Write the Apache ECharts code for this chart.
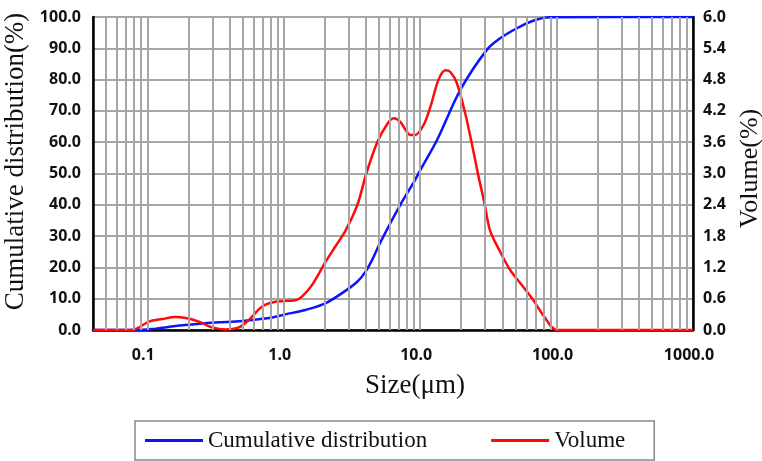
<!DOCTYPE html>
<html>
<head>
<meta charset="utf-8">
<script src="https://cdn.jsdelivr.net/npm/echarts@6/dist/echarts.min.js"></script>
<style>
html,body{margin:0;padding:0;background:#fff;}
#chart{width:762px;height:461px;}
</style>
</head>
<body>
<div id="chart"></div>
<script>
// Particle size (µm) and cumulative distribution (%)
const cumSize = [0.04, 0.082, 0.109, 0.161, 0.253, 0.334, 0.443, 0.587, 0.823, 1.03, 1.44, 2.02, 2.83, 3.47, 3.96, 4.46, 5.11, 7.15, 9.2, 10.0, 13.3, 19.7, 30.8, 38.6, 51.2, 67.3, 89.6, 1000];
const cumValue = [0, 0, 0.3, 1.3, 2.1, 2.5, 2.7, 3.2, 4.0, 5.0, 6.4, 8.5, 12.5, 15.5, 18.5, 22.5, 28.0, 40.0, 48.0, 51.0, 60.7, 76.7, 89.5, 93.2, 96.4, 98.8, 99.9, 100];

// Particle size (µm) and volume (%)
const volSize = [0.04, 0.0777, 0.0868, 0.103, 0.129, 0.161, 0.191, 0.239, 0.299, 0.374, 0.469, 0.554, 0.695, 0.869, 1.09, 1.22, 1.36, 1.61, 2.02, 2.39, 2.83, 3.47, 4.03, 4.85, 5.74, 6.39, 7.15, 8.47, 9.2, 10.6, 11.9, 13.6, 15.3, 16.6, 18.6, 21.4, 23.9, 26.8, 29.5, 32.6, 38.6, 45.7, 56.9, 67.3, 79.6, 101, 1000];
const volValue = [0, 0, 0.05, 0.16, 0.21, 0.25, 0.23, 0.16, 0.05, 0.01, 0.05, 0.19, 0.45, 0.54, 0.56, 0.57, 0.64, 0.86, 1.3, 1.6, 1.9, 2.4, 3.0, 3.6, 3.95, 4.06, 3.99, 3.74, 3.74, 3.93, 4.28, 4.79, 4.98, 4.95, 4.73, 4.15, 3.58, 2.94, 2.45, 1.9, 1.5, 1.15, 0.83, 0.58, 0.29, 0, 0];

// Axis tick labels
const xTickValues = [0.1, 1, 10, 100, 1000];
const xGridValues = [0.05, 0.06, 0.07, 0.08, 0.09, 0.1, 0.2, 0.3, 0.4, 0.5, 0.6, 0.7, 0.8, 0.9, 1, 2, 3, 4, 5, 6, 7, 8, 9, 10, 20, 30, 40, 50, 60, 70, 80, 90, 100, 200, 300, 400, 500, 600, 700, 800, 900];
const seriesNames = ['Cumulative distribution', 'Volume'];

const chart = echarts.init(document.getElementById('chart'));

function isPow10(v) {
  const l = Math.log10(v);
  return Math.abs(l - Math.round(l)) < 1e-6;
}

const labelFont = {fontFamily: 'Open Sans', fontWeight: 'bold', fontSize: 16, color: '#111'};
const nameFont = {fontFamily: 'Liberation Serif', fontSize: 26, color: '#111'};

const option = {
  animation: false,
  grid: {left: 93, right: 69, top: 17, bottom: 131, show: true, borderColor: '#222', borderWidth: 1.5,
         containLabel: false, outerBoundsMode: 'none'},
  legend: {
    data: seriesNames.map(n => ({name: n, icon: 'rect'})),
    left: 135, top: 421,
    padding: [8, 29, 8, 10],
    itemGap: 64,
    itemWidth: 58, itemHeight: 3,
    borderColor: '#888', borderWidth: 1.5, borderRadius: 0,
    textStyle: {fontFamily: 'Liberation Serif', fontSize: 23, color: '#111'}
  },
  xAxis: {
    type: 'log', logBase: 10, min: 0.04, max: 1000,
    name: 'Size(μm)', nameLocation: 'middle', nameGap: 42,
    nameTextStyle: Object.assign({}, nameFont, {fontSize: 27, padding: [0, 0, 0, 44]}),
    axisLine: {show: true, lineStyle: {color: '#000', width: 2.5}},
    axisTick: {show: false},
    splitLine: {show: false},
    axisLabel: Object.assign({
      margin: 17,
      padding: [0, 8, 0, 0],
      customValues: xTickValues,
      formatter: function (v) {
        if (!isPow10(v)) return '';
        return v < 1 ? String(+v.toPrecision(6)) : (+v.toPrecision(6)).toFixed(1);
      }
    }, labelFont)
  },
  yAxis: [{
    type: 'value', min: 0, max: 100, interval: 10,
    name: 'Cumulative distribution(%)', nameLocation: 'middle', nameGap: 59,
    nameTextStyle: Object.assign({}, nameFont, {fontSize: 27, padding: [0, 0, 0, 24]}),
    axisLine: {show: true, lineStyle: {color: '#000', width: 2.5}},
    axisTick: {show: false},
    splitLine: {show: true, lineStyle: {color: '#a6a6a6', width: 2}},
    axisLabel: Object.assign({margin: 12, formatter: v => v.toFixed(1)}, labelFont)
  }, {
    type: 'value', min: 0, max: 6, interval: 0.6, position: 'right',
    name: 'Volume(%)', nameLocation: 'middle', nameGap: 36,
    nameTextStyle: Object.assign({}, nameFont, {padding: [0, 0, 0, 10]}),
    axisLine: {show: true, lineStyle: {color: '#000', width: 2.5}},
    axisTick: {show: false},
    splitLine: {show: false},
    axisLabel: Object.assign({margin: 10, formatter: v => v.toFixed(1)}, labelFont)
  }],
  series: [{
    type: 'line', name: 'grid', data: [], z: 1, silent: true,
    markLine: {
      silent: true, symbol: 'none', animation: false,
      label: {show: false},
      lineStyle: {color: '#a6a6a6', width: 2, type: 'solid'},
      data: xGridValues.map(v => ({xAxis: v}))
    }
  }, {
    type: 'line', name: seriesNames[0], yAxisIndex: 0, z: 3,
    data: cumSize.map((s, i) => [s, cumValue[i]]),
    smooth: 0.3, showSymbol: false, symbol: 'none',
    lineStyle: {color: '#0a14ff', width: 2.5}, itemStyle: {color: '#0a14ff'}
  }, {
    type: 'line', name: seriesNames[1], yAxisIndex: 1, z: 4,
    data: volSize.map((s, i) => [s, volValue[i]]),
    smooth: 0.3, showSymbol: false, symbol: 'none',
    lineStyle: {color: '#ff0a0a', width: 2.5}, itemStyle: {color: '#ff0a0a'}
  }]
};
chart.setOption(option);
</script>
</body>
</html>
